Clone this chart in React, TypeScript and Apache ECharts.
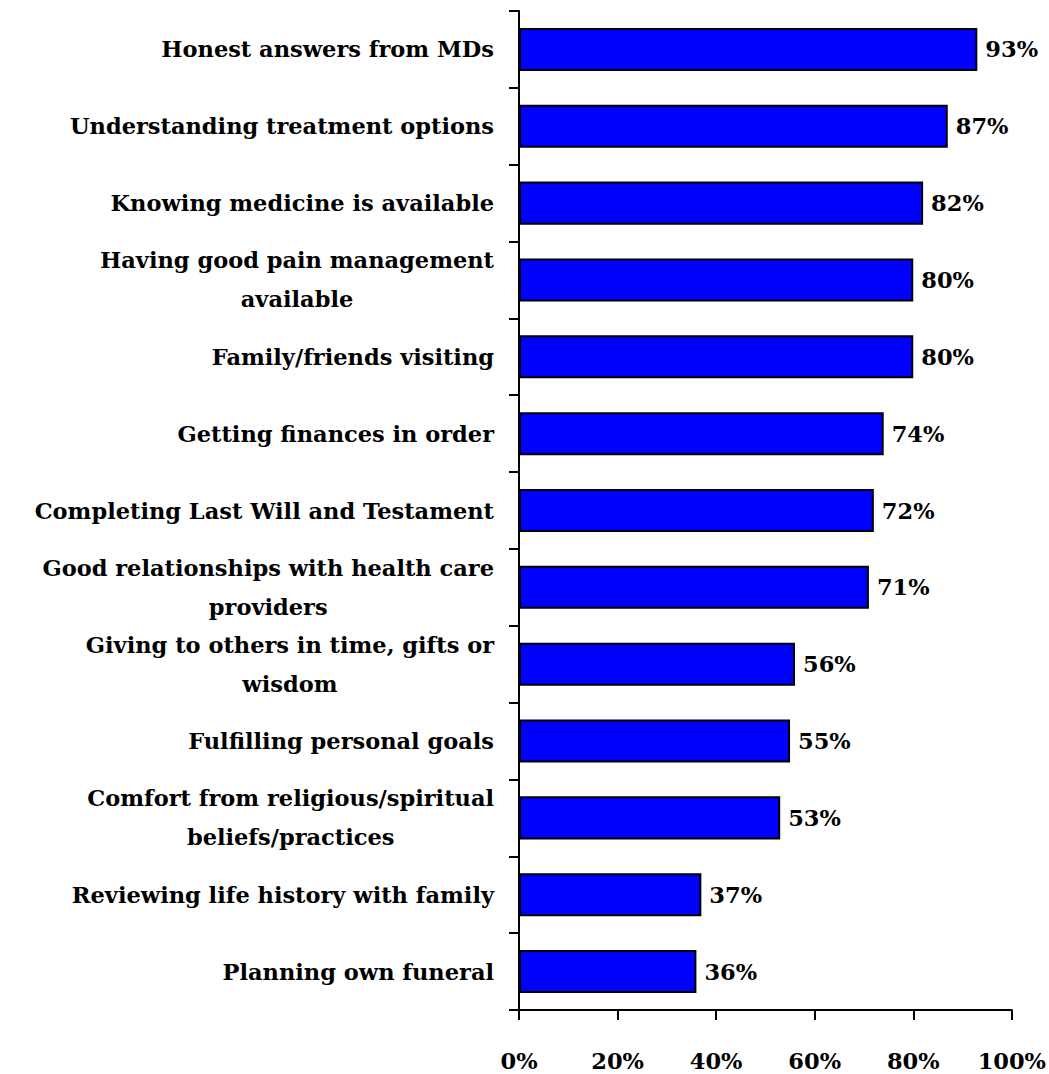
import React, { useEffect, useRef } from "react";
import * as echarts from "echarts";

const categories = [
  "Honest answers from MDs",
  "Understanding treatment options",
  "Knowing medicine is available",
  "Having good pain management\navailable",
  "Family/friends visiting",
  "Getting finances in order",
  "Completing Last Will and Testament",
  "Good relationships with health care\nproviders",
  "Giving to others in time, gifts or\nwisdom",
  "Fulfilling personal goals",
  "Comfort from religious/spiritual\nbeliefs/practices",
  "Reviewing life history with family",
  "Planning own funeral",
];
const values = [93, 87, 82, 80, 80, 74, 72, 71, 56, 55, 53, 37, 36];
const xTicks = { min: 0, max: 100, interval: 20 };

const FONT = "'DejaVu Serif', 'Liberation Serif', serif";
const FS = 22.5;

export default function App() {
  const ref = useRef<HTMLDivElement>(null);
  useEffect(() => {
    document.body.style.margin = "0";
    const chart = echarts.init(ref.current!, undefined, { renderer: "svg" });
    chart.setOption({
      animation: false,
      backgroundColor: "#ffffff",
      grid: { left: 519, right: 37, top: 11, bottom: 64, containLabel: false },
      xAxis: {
        type: "value",
        min: xTicks.min,
        max: xTicks.max,
        interval: xTicks.interval,
        axisLine: { show: true, lineStyle: { color: "#000", width: 2 } },
        axisTick: { show: true, length: 10, lineStyle: { color: "#000", width: 2 } },
        splitLine: { show: false },
        axisLabel: {
          formatter: "{value}%",
          margin: 39,
          color: "#000",
          fontFamily: FONT,
          fontWeight: "bold",
          fontSize: FS,
        },
      },
      yAxis: {
        type: "category",
        inverse: true,
        data: categories,
        axisLine: { show: true, lineStyle: { color: "#000", width: 2 } },
        axisTick: { show: true, length: 10, lineStyle: { color: "#000", width: 2 } },
        axisLabel: {
          margin: 25,
          color: "#000",
          fontFamily: FONT,
          fontWeight: "bold",
          fontSize: FS,
          formatter: (v: string) =>
            v
              .split("\n")
              .map((l) => `{c|${l}}`)
              .join("\n"),
          rich: {
            c: {
              align: "center",
              color: "#000",
              fontFamily: FONT,
              fontWeight: "bold",
              fontSize: FS,
              lineHeight: 39,
            },
          },
        },
      },
      series: [
        {
          type: "bar",
          data: values,
          barCategoryGap: "44%",
          itemStyle: { color: "#0000ff", borderColor: "#000", borderWidth: 2 },
          label: {
            show: true,
            position: "right",
            distance: 8,
            formatter: "{c}%",
            color: "#000",
            fontFamily: FONT,
            fontWeight: "bold",
            fontSize: FS,
          },
        },
      ],
    });
    return () => chart.dispose();
  }, []);
  return <div ref={ref} style={{ width: 1049, height: 1074 }} />;
}
